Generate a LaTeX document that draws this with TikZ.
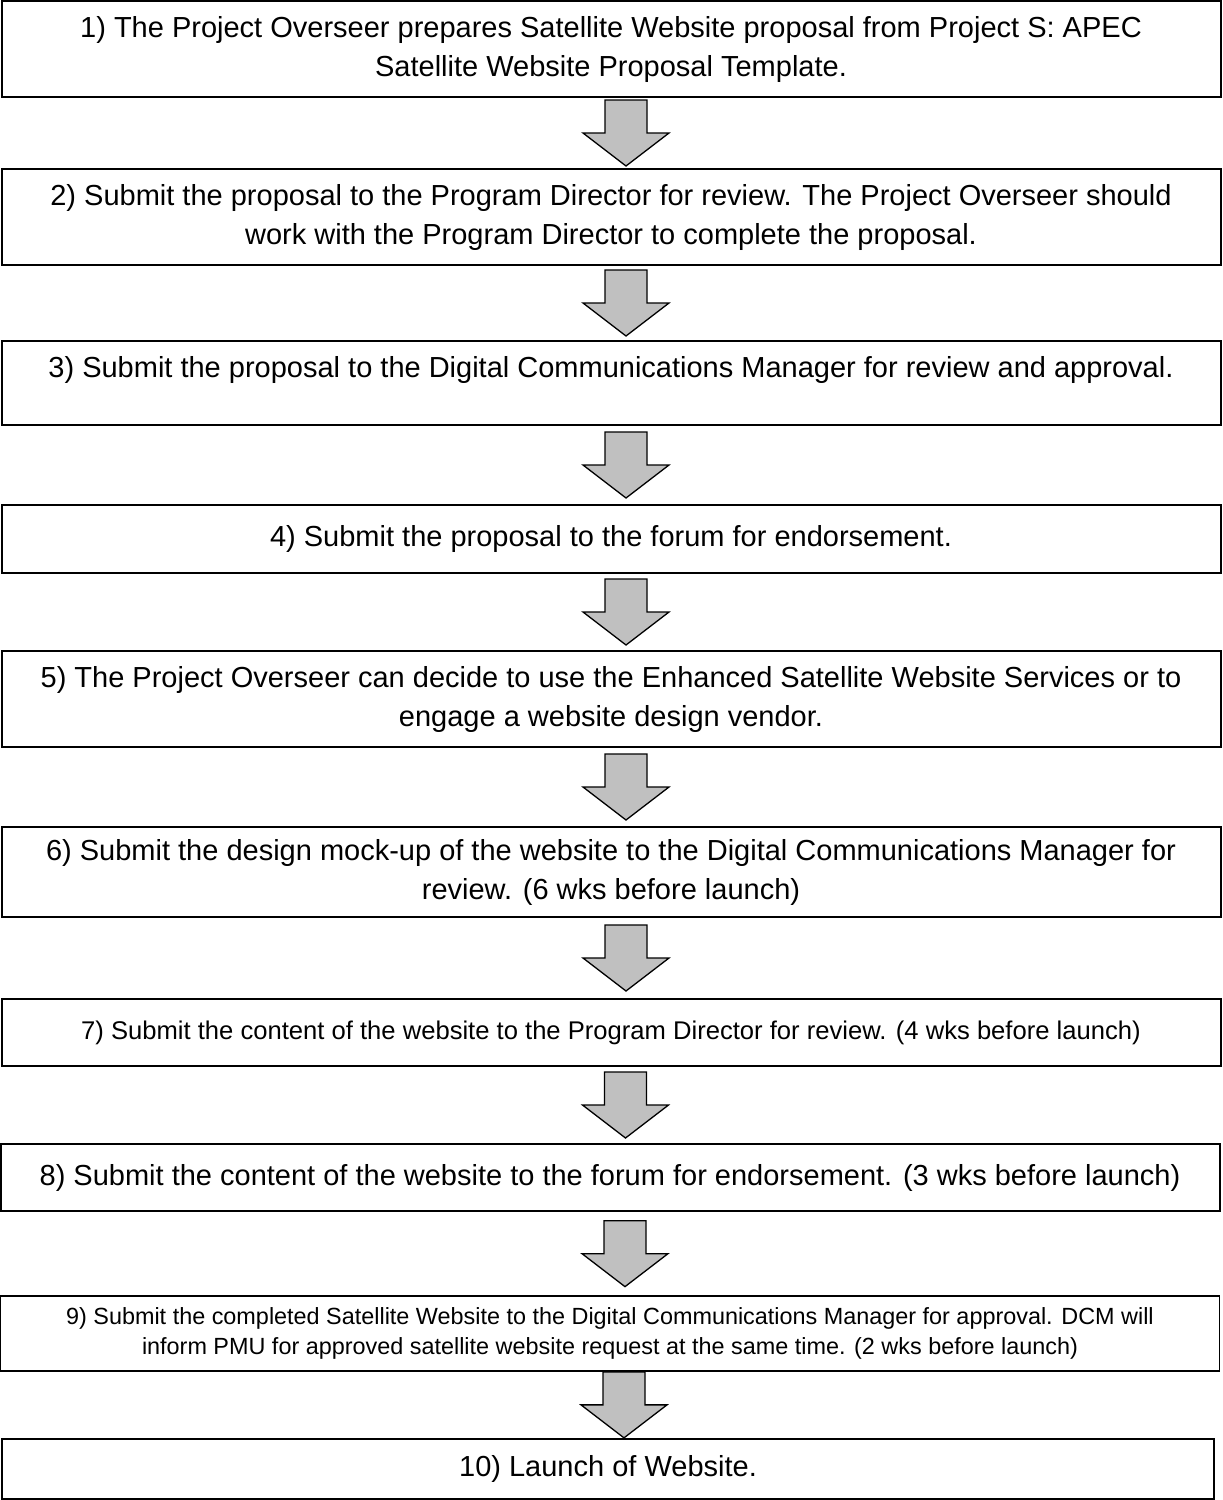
\documentclass[tikz,border=0pt]{standalone}
\usepackage{fontspec}
\setmainfont{Liberation Sans}
\usetikzlibrary{calc}

\begin{document}
\begin{tikzpicture}[
    x=1pt, y=1pt,
    stepbox/.style={
        draw,
        line width=2pt,
        minimum width=1219pt,
        inner sep=0pt,
        align=center,
        font=\fontsize{29}{39}\selectfont,
    },
    smallstep/.style={
        font=\fontsize{25.6}{30}\selectfont,
    },
    tinystep/.style={
        line width=1.4pt,
        font=\fontsize{23.4}{30}\selectfont,
    },
    arrowbody/.style={
        draw,
        line width=1.3pt,
        line join=miter,
        fill={rgb,255:red,192;green,192;blue,192},
    },
    downarrow/.pic={
        \draw[arrowbody] (-6,33) -- (36,33) -- (36,0) -- (58,0)
            -- (15,-33) -- (-28,0) -- (-6,0) -- cycle;
    }
]
    \useasboundingbox (0,0) rectangle (1223,-1500);

    % Steps
    \node[stepbox, minimum height=96pt] (s1) at (611,-49)
        {1) The Project Overseer prepares Satellite Website proposal from Project S: APEC\\
         Satellite Website Proposal Template.};
    \node[stepbox, minimum height=96pt] (s2) at (611,-217)
        {2) Submit the proposal to the Program Director for review. The Project Overseer should\\
         work with the Program Director to complete the proposal.};
    \node[stepbox, minimum height=84pt, text depth=32pt] (s3) at (611,-383)
        {3) Submit the proposal to the Digital Communications Manager for review and approval.};
    \node[stepbox, minimum height=68pt] (s4) at (611,-539)
        {4) Submit the proposal to the forum for endorsement.};
    \node[stepbox, minimum height=96pt] (s5) at (611,-699)
        {5) The Project Overseer can decide to use the Enhanced Satellite Website Services or to\\
         engage a website design vendor.};
    \node[stepbox, minimum height=90pt] (s6) at (611,-872)
        {6) Submit the design mock-up of the website to the Digital Communications Manager for\\
         review. (6 wks before launch)};
    \node[stepbox, smallstep, minimum height=67pt] (s7) at (611,-1032.5)
        {7) Submit the content of the website to the Program Director for review. (4 wks before launch)};
    \node[stepbox, minimum height=67pt] (s8) at (610,-1177.5)
        {8) Submit the content of the website to the forum for endorsement. (3 wks before launch)};
    \node[stepbox, tinystep, minimum height=75pt] (s9) at (610,-1333.5)
        {9) Submit the completed Satellite Website to the Digital Communications Manager for approval. DCM will\\
         inform PMU for approved satellite website request at the same time. (2 wks before launch)};
    \node[stepbox, minimum height=60pt, minimum width=1212pt] (s10) at (608,-1469)
        {10) Launch of Website.};

    % Arrows between steps
    \pic at ($(s1.south)!.5!(s2.north)$) {downarrow};
    \pic at ($(s2.south)!.5!(s3.north)$) {downarrow};
    \pic at ($(s3.south)!.5!(s4.north)$) {downarrow};
    \pic at ($(s4.south)!.5!(s5.north)$) {downarrow};
    \pic at ($(s5.south)!.5!(s6.north)$) {downarrow};
    \pic at ($(s6.south)!.5!(s7.north)$) {downarrow};
    \pic at ($(s7.south)!.5!(s8.north)$) {downarrow};
    \pic at ($(s8.south)!.5!(s9.north)$) {downarrow};
    \pic at ($(s9.south)!.5!(s10.north)$) {downarrow};
\end{tikzpicture}
\end{document}
